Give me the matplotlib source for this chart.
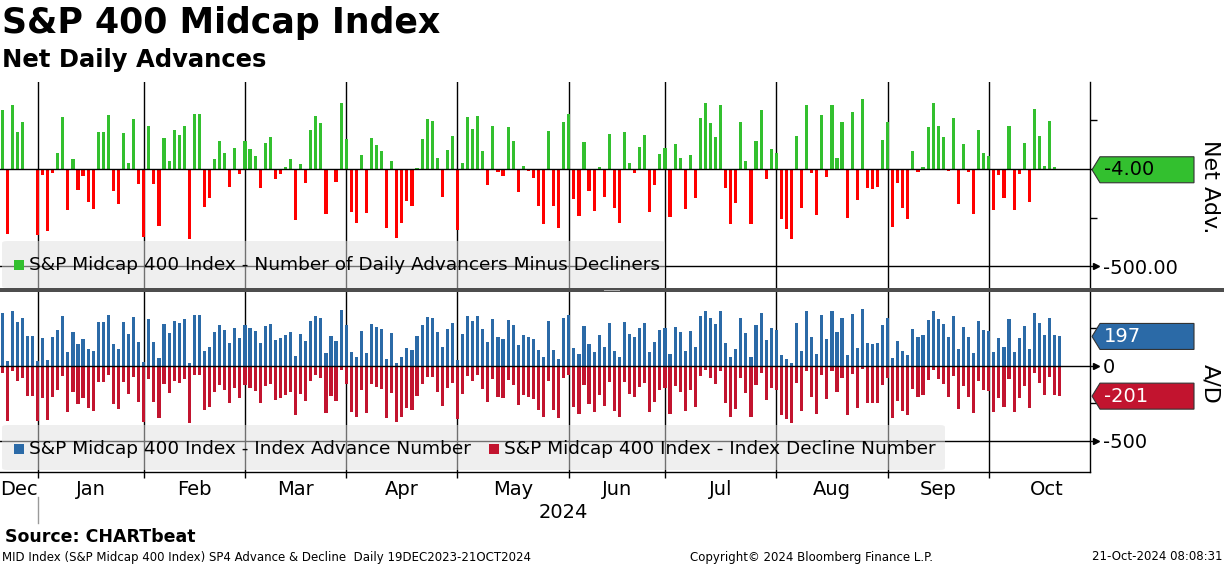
import numpy as np
import matplotlib
matplotlib.use("Agg")
import matplotlib.pyplot as plt
import matplotlib.transforms as mtrans
from matplotlib.patches import Polygon, FancyBboxPatch, Rectangle

W, H = 1224, 566
plt.rcParams["font.family"] = ["DejaVu Sans"]

GREEN = "#33c02f"
RED = "#ff0000"
BLUE = "#2b6aa7"
CRIMSON = "#c2142f"

# months on the axis, trading days shown (20 Dec 2023 .. 21 Oct 2024) and full trading days
months = ["Dec", "Jan", "Feb", "Mar", "Apr", "May", "Jun", "Jul", "Aug", "Sep", "Oct"]
shown_days = [7, 21, 20, 20, 22, 22, 19, 22, 22, 20, 15]
full_days = [20, 21, 20, 20, 22, 22, 19, 22, 22, 20, 23]

# net advances (advancers minus decliners), one row per month
net_adv = [
    303, -332, 330, 192, 243, -2, -3,
    -337, -29, -317, -19, 82, 267, -209, 51, -106, -34, -168, -204, 190, 190, 277, -111, -178, 185, 31, 257, -75,
    -348, 221, -75, -291, 159, 41, 200, 175, 221, -358, 284, 284, -193, -147, 51, 144, 82, -91, 108, -24,
    144, 103, 67, -96, 134, 164, -50, -24, 10, 53, -262, 26, -70, 202, 272, 236, -229, -3, -65, 341,
    154, -219, -276, 72, -224, 159, 123, 92, -301, 41, -353, -276, -163, -188, 3, 154, 257, 247, 56, -142, 98, 169,
    -312, 31, 267, 205, 272, 92, -80, 221, -14, -34, 216, 144, -116, 15, -9, -45, -188, -281, 195, -188, -301, 243,
    282, -152, -240, 139, -111, -214, 10, -142, 180, -199, -276, 190, 31, -19, 113, 175, -219, -80, 77,
    108, -245, 128, 56, -204, 72, -147, 262, 339, 236, 164, 329, -96, -281, -173, 241, 41, -281, 144, 303, -50, 103,
    82, -255, -306, -358, 169, -199, 329, -19, -235, 277, -39, 329, 56, 241, -250, 293, -158, 360, -96, -101, -91, 151,
    241, -296, -70, -199, -255, 92, -14, 10, 216, 339, 221, 164, -9, 262, -178, 128, -14, -229, 200, 82,
    67, -209, -29, -147, 221, -209, -24, 134, -168, 308, 169, 15, 247, 10, -4,
]

advances = [
    351, 33, 364, 295, 321, 198, 198,
    31, 185, 41, 190, 240, 333, 95, 225, 146, 182, 115, 97, 294, 294, 338, 144, 110, 292, 215, 328, 162,
    25, 310, 162, 54, 279, 220, 299, 287, 310, 20, 341, 341, 103, 126, 225, 271, 240, 154, 253, 187,
    271, 251, 233, 151, 266, 281, 174, 187, 204, 226, 68, 212, 164, 300, 335, 317, 85, 198, 167, 370,
    276, 90, 61, 235, 87, 279, 261, 245, 49, 220, 23, 61, 118, 105, 201, 276, 328, 323, 227, 128, 248, 284,
    43, 215, 333, 302, 335, 245, 159, 310, 192, 182, 307, 271, 141, 207, 195, 177, 105, 59, 297, 105, 49, 321,
    340, 123, 79, 269, 144, 92, 204, 128, 289, 100, 61, 294, 215, 190, 256, 287, 90, 159, 238,
    253, 77, 263, 227, 97, 235, 126, 330, 369, 317, 281, 364, 151, 59, 113, 320, 220, 59, 271, 351, 174, 251,
    240, 72, 46, 20, 284, 100, 364, 190, 82, 338, 180, 364, 227, 320, 74, 346, 120, 379, 151, 149, 154, 275,
    320, 51, 164, 100, 72, 245, 192, 204, 307, 369, 310, 281, 195, 330, 110, 263, 192, 85, 299, 240,
    233, 95, 185, 126, 310, 95, 187, 266, 115, 353, 284, 207, 323, 204, 197,
]

declines = [
    48, 365, 34, 103, 78, 200, 201,
    368, 214, 358, 209, 158, 66, 304, 174, 252, 216, 283, 301, 104, 104, 61, 255, 288, 107, 184, 71, 237,
    373, 89, 237, 345, 120, 179, 99, 112, 89, 378, 57, 57, 296, 273, 174, 127, 158, 245, 145, 211,
    127, 148, 166, 247, 132, 117, 224, 211, 194, 173, 330, 186, 234, 98, 63, 81, 314, 201, 232, 29,
    122, 309, 337, 163, 311, 120, 138, 153, 350, 179, 376, 337, 281, 293, 198, 122, 71, 76, 171, 270, 150, 115,
    355, 184, 66, 97, 63, 153, 239, 89, 206, 216, 91, 127, 257, 192, 204, 222, 293, 340, 102, 293, 350, 78,
    58, 275, 319, 130, 255, 306, 194, 270, 109, 299, 337, 104, 184, 209, 143, 112, 309, 239, 161,
    145, 322, 135, 171, 301, 163, 273, 68, 30, 81, 117, 35, 247, 340, 286, 79, 179, 340, 127, 48, 224, 148,
    158, 327, 352, 378, 115, 299, 35, 209, 317, 61, 219, 35, 171, 79, 324, 53, 278, 19, 247, 250, 245, 124,
    79, 347, 234, 299, 327, 153, 206, 194, 91, 30, 89, 117, 204, 68, 288, 135, 206, 314, 99, 158,
    166, 304, 214, 273, 89, 304, 211, 132, 283, 45, 115, 192, 76, 194, 201,
]


def fx(px):
    return px / W


def fy(py):
    # py measured from the top of the image
    return 1 - py / H


fig = plt.figure(figsize=(W / 100, H / 100), dpi=100)
ax1 = fig.add_axes([0, fy(288), fx(1090), (288 - 82) / H])
ax2 = fig.add_axes([0, fy(472), fx(1090), (472 - 292) / H])

x = np.arange(len(net_adv))
XLIM = (-0.415, 215.0)
starts = np.concatenate([[shown_days[0] - full_days[0]], np.cumsum(shown_days)[:-1]])
label_pos = (np.maximum(starts, XLIM[0]) + starts + np.array(full_days)) / 2

ax1.bar(x, net_adv, width=0.62, linewidth=0, zorder=2,
        color=[GREEN if v >= 0 else RED for v in net_adv])
ax2.bar(x, advances, width=0.62, linewidth=0, zorder=2, color=BLUE)
ax2.bar(x, -np.array(declines), width=0.62, linewidth=0, zorder=2, color=CRIMSON)

for ax in (ax1, ax2):
    ax.set_xlim(*XLIM)
    ax.spines["left"].set_visible(False)
    ax.spines["top"].set_visible(False)
    ax.spines["right"].set_linewidth(1)
    for st in starts[1:]:
        ax.axvline(st, color="black", lw=1, zorder=1)
    ax.axhline(0, color="black", lw=1, zorder=3)
    ax.axhline(-500, color="black", lw=1, zorder=1)
    ax.yaxis.tick_right()
    ax.tick_params(axis="y", direction="out", length=5, width=1, labelsize=14, pad=4)
    ax.set_yticks([250, 0, -250, -500])
    tr = mtrans.offset_copy(mtrans.blended_transform_factory(ax.transAxes, ax.transData),
                            fig=fig, x=6, y=0, units="dots")
    ax.plot([1.0], [-500], marker=">", ms=4, color="black", transform=tr, clip_on=False)

ax1.spines["bottom"].set_visible(False)
ax1.set_xticks([])
ax1.set_ylim(-611.5, 447)
ax1.set_yticklabels(["", "", "", "-500.00"])

ax2.set_ylim(-706.7, 493.3)
ax2.set_yticklabels(["", "0", "", "-500"])
tr0 = mtrans.offset_copy(mtrans.blended_transform_factory(ax2.transAxes, ax2.transData),
                         fig=fig, x=6, y=0, units="dots")
ax2.plot([1.0], [0], marker=">", ms=4, color="black", transform=tr0, clip_on=False)
ax2.spines["bottom"].set_linewidth(1)
ax2.set_xticks(starts[1:])
ax2.set_xticklabels([])
ax2.set_xticks(label_pos, minor=True)
ax2.set_xticklabels(months, minor=True)
ax2.tick_params(axis="x", which="major", direction="out", length=4, width=1)
ax2.tick_params(axis="x", which="minor", length=0, labelsize=14, pad=6)

# year marker
ytr = mtrans.blended_transform_factory(ax2.transData, fig.transFigure)
ax2.plot([starts[1], starts[1]], [fy(497), fy(523)], color="#9a9a9a", lw=1,
         transform=ytr, clip_on=False)
ax2.text((starts[1] + XLIM[1]) / 2, fy(512), "2024", transform=ytr,
         ha="center", va="center", fontsize=14)


def legend_panel(x0, y0, x1, y1):
    fig.add_artist(FancyBboxPatch((fx(x0), fy(y1)), fx(x1 - x0), (y1 - y0) / H,
                                  boxstyle="round,pad=0,rounding_size=0.004",
                                  transform=fig.transFigure, facecolor="#e1e1e1",
                                  alpha=0.5, edgecolor="none", zorder=5))


def legend_item(px, py, color, label):
    fig.add_artist(Rectangle((fx(px), fy(py + 5)), fx(10), 10 / H, transform=fig.transFigure,
                             facecolor=color, edgecolor="none", zorder=6))
    fig.text(fx(px + 15), fy(py), label, ha="left", va="center", fontsize=13.3, zorder=7)


legend_panel(2, 241, 665, 288)
legend_item(14, 265, GREEN, "S&P Midcap 400 Index - Number of Daily Advancers Minus Decliners")
legend_panel(2, 425, 945, 470)
legend_item(14, 449, BLUE, "S&P Midcap 400 Index - Index Advance Number")
legend_item(489, 449, CRIMSON, "S&P Midcap 400 Index - Index Decline Number")


def value_tag(ax, val, label, face, text_color):
    yc = H - ax.transData.transform((0, val))[1]
    h = 13
    pts = [(1092, yc), (1100, yc - h), (1194, yc - h), (1194, yc + h), (1100, yc + h)]
    fig.add_artist(Polygon([(fx(a), fy(b)) for a, b in pts], closed=True,
                           transform=fig.transFigure, facecolor=face,
                           edgecolor="#333333", lw=0.8, zorder=6))
    fig.text(fx(1104), fy(yc), label, ha="left", va="center", fontsize=14,
             color=text_color, zorder=7)


value_tag(ax1, net_adv[-1], f"{net_adv[-1]:.2f}", GREEN, "black")
value_tag(ax2, advances[-1], f"{advances[-1]}", BLUE, "white")
value_tag(ax2, -declines[-1], f"{-declines[-1]}", CRIMSON, "white")

fig.text(fx(1210), fy(187), "Net Adv.", rotation=-90, ha="center", va="center", fontsize=16)
fig.text(fx(1210), fy(384), "A/D", rotation=-90, ha="center", va="center", fontsize=16)

# panel separator
fig.add_artist(Rectangle((0, fy(292)), 1, 4 / H, transform=fig.transFigure,
                         facecolor="#4d4d4d", edgecolor="none", zorder=8))
fig.add_artist(Rectangle((fx(604), fy(290.5)), fx(16), 1 / H, transform=fig.transFigure,
                         facecolor="#b0b0b0", edgecolor="none", zorder=9))

# titles and footer
fig.text(fx(2), fy(23), "S&P 400 Midcap Index", fontsize=25, fontweight="bold",
         ha="left", va="center")
fig.text(fx(2), fy(60), "Net Daily Advances", fontsize=17.5, fontweight="bold",
         ha="left", va="center")
fig.text(fx(5), fy(537), "Source: CHARTbeat", fontsize=12.5, fontweight="bold",
         ha="left", va="center")
fig.text(fx(2), fy(557), "MID Index (S&P Midcap 400 Index) SP4 Advance & Decline  Daily 19DEC2023-21OCT2024",
         fontsize=8.5, ha="left", va="center")
fig.text(fx(811), fy(557), "Copyright\u00a9 2024 Bloomberg Finance L.P.", fontsize=8.5,
         ha="center", va="center")
fig.text(fx(1222), fy(557), "21-Oct-2024 08:08:31", fontsize=8.5, ha="right", va="center")

fig.savefig("out.png", dpi=100)
